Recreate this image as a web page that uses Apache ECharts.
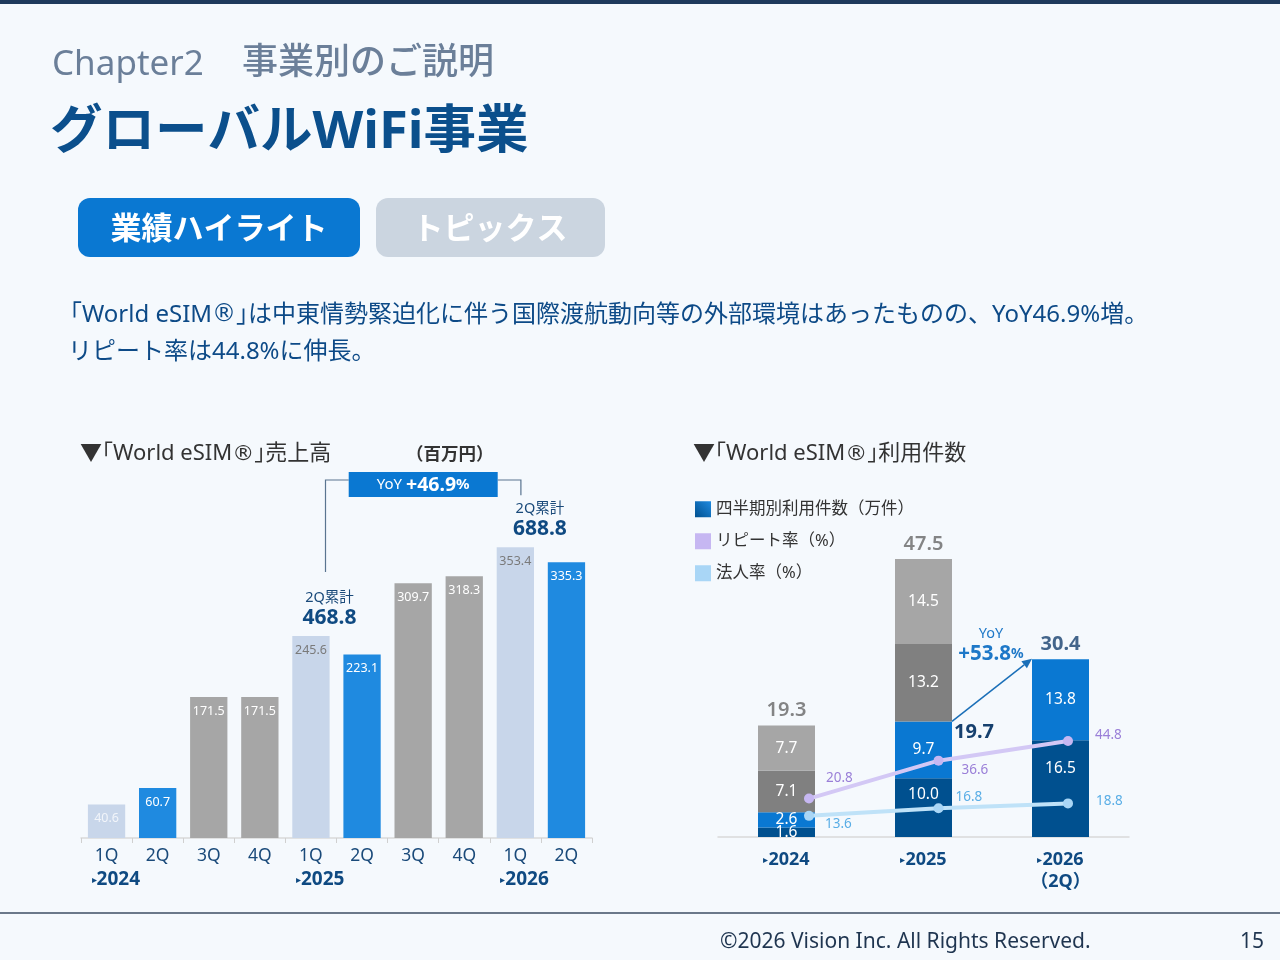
<!DOCTYPE html>
<html>
<head>
<meta charset="utf-8">
<script src="https://cdn.jsdelivr.net/npm/echarts@6/dist/echarts.min.js"></script>
<style>
  html, body { margin: 0; padding: 0; background: #f5f9fd; }
  #main { width: 1280px; height: 960px; }
</style>
</head>
<body>
<div id="main"></div>
<script>
// 売上高（百万円）
const salesQuarters = ['1Q', '2Q', '3Q', '4Q', '1Q', '2Q', '3Q', '4Q', '1Q', '2Q']
const salesValues = [40.6, 60.7, 171.5, 171.5, 245.6, 223.1, 309.7, 318.3, 353.4, 335.3]
const salesYears = ['2024', '2025', '2026']
const halfTotals = [468.8, 688.8]
const salesYoY = '+46.9'

// 利用件数（万件）
const useYears = ['2024', '2025', '2026']
const useQ1 = [1.6, 10.0, 16.5]
const useQ2 = [2.6, 9.7, 13.8]
const useQ3 = [7.1, 13.2, null]
const useQ4 = [7.7, 14.5, null]
const useTotals = [19.3, 47.5, 30.4]
const useHalf2025 = 19.7
const useYoY = '+53.8'
const repeatRate = [20.8, 36.6, 44.8]
const corpRate = [13.6, 16.8, 18.8]

const FONT = '"Noto Sans", "Noto Sans CJK JP", sans-serif'
const NAVY = '#0f4a82'

const salesColors = ['#c8d6ea', '#1f8ae0', '#a6a6a6', '#a6a6a6']
const salesLabelColors = ['#f2f5fa', '#fff', '#fff', '#fff', '#7a7a7a', '#fff', '#fff', '#fff', '#7a7a7a', '#fff']

const chart = echarts.init(document.getElementById('main'), null, {renderer: 'canvas'})

function txt(text, x, y, size, fill, extra) {
    return {type: 'text', x: x, y: y, silent: true,
        style: Object.assign({text: text, fontSize: size, fill: fill, fontFamily: FONT, verticalAlign: 'middle'}, extra || {})}
}
function regRich(size, fill) {
    return {r: {fontFamily: '"DejaVu Sans"', fontSize: size, fill: fill}}
}

const header = [
    {type: 'rect', shape: {x: 0, y: 0, width: 1280, height: 4}, style: {fill: '#1e3a5c'}},
    txt('Chapter2', 52, 65, 35, '#6b7f99'),
    txt('事業別のご説明', 242, 64, 36, '#6b7f99', {fontWeight: 500}),
    txt('グローバルWiFi事業', 50, 133, 52.5, '#0b4f8c', {fontWeight: 'bold'}),
    {type: 'rect', shape: {x: 78, y: 198, width: 282, height: 59, r: 12}, style: {fill: '#0a78d2'}},
    txt('業績ハイライト', 219, 230, 31, '#fff', {fontWeight: 'bold', align: 'center'}),
    {type: 'rect', shape: {x: 376, y: 198, width: 229, height: 59, r: 12}, style: {fill: '#cbd5e0'}},
    txt('トピックス', 490, 230, 31, '#fff', {fontWeight: 'bold', align: 'center'}),
    txt('｢World eSIM{r|®}｣は中東情勢緊迫化に伴う国際渡航動向等の外部環境はあったものの、YoY46.9%増。', 70, 315, 24, '#0d4a87',
        {rich: regRich(24, '#0d4a87')}),
    txt('リピート率は44.8%に伸長。', 68, 352, 24, '#0d4a87'),
    txt('▼｢World eSIM{r|®}｣売上高', 80, 454, 22, '#333', {rich: regRich(22, '#333')}),
    txt('（百万円）', 406, 455, 17.5, '#333', {fontWeight: 'bold'}),
    txt('▼｢World eSIM{r|®}｣利用件数', 693, 454, 22, '#333', {rich: regRich(22, '#333')}),
    {type: 'line', shape: {x1: 0, y1: 913, x2: 1280, y2: 913}, style: {stroke: '#3d4d63', lineWidth: 1.5}},
    txt('©2026 Vision Inc. All Rights Reserved.', 720, 942, 21, '#1f3550'),
    txt('15', 1240, 942, 21, '#1f3550')
]

// label offsets (styling only)
const q1LabelOffsets = [[0, 0], [0, -13], [0, -20]]
const repeatOffsets = [[7, -20], [13, 9], [17, -6]]
const corpOffsets = [[6, 8], [7, -11], [18, -2]]

const useSeries = [[useQ1, '四半期別利用件数（万件）', '#00508f'], [useQ2, 'q2', '#0a78d2'],
    [useQ3, 'q3', '#808080'], [useQ4, 'q4', '#a6a6a6']].map(([d, n, c], k) => ({
    name: n, type: 'bar', stack: 'use', xAxisIndex: 1, yAxisIndex: 1, barWidth: 57,
    data: d.map((v, i) => k === 0 ? {value: v, label: {offset: q1LabelOffsets[i]}} : v),
    itemStyle: {color: c},
    label: {show: true, position: 'inside', color: '#fff', fontSize: 15.5, fontFamily: FONT,
        formatter: p => p.value == null ? '' : p.value.toFixed(1)}
}))

const option = {
    animation: false,
    textStyle: {fontFamily: FONT},
    legend: {
        orient: 'vertical', left: 690, top: 496, itemWidth: 16, itemHeight: 16, itemGap: 15.5,
        selectedMode: false, icon: 'rect',
        textStyle: {fontSize: 16.5, color: '#333', fontFamily: FONT},
        data: [
            {name: '四半期別利用件数（万件）', itemStyle: {color: new echarts.graphic.LinearGradient(0, 1, 1, 0, [
                {offset: 0, color: '#00508f'}, {offset: 1, color: '#1f8ae0'}])}},
            {name: 'リピート率（%）'},
            {name: '法人率（%）'}
        ]
    },
    grid: [
        {left: 81, right: 688, top: 509, bottom: 122, outerBoundsMode: 'none'},
        {left: 718, right: 151, top: 485, bottom: 123, outerBoundsMode: 'none'},
        {left: 809, right: 212, top: 608.5, bottom: 111.5, outerBoundsMode: 'none'}
    ],
    xAxis: [
        {type: 'category', gridIndex: 0, data: salesQuarters,
            axisLine: {lineStyle: {color: '#d9d9d9', width: 1.5}},
            axisTick: {show: true, length: 5, lineStyle: {color: '#d0d0d0'}},
            axisLabel: {fontSize: 17.5, color: '#1a4a7a', margin: 9, fontFamily: FONT}},
        {type: 'category', gridIndex: 1, data: useYears,
            axisLine: {lineStyle: {color: '#d9d9d9', width: 1.5}},
            axisTick: {show: false},
            axisLabel: {margin: 12, lineHeight: 22,
                formatter: (v, i) => '{a|▸}{b|' + v + '}' + (i === 2 ? '\n{b|（2Q）}' : ''),
                rich: {
                    a: {fontSize: 10, color: NAVY, fontFamily: FONT},
                    b: {fontSize: 18, fontWeight: 'bold', color: NAVY, fontFamily: FONT, lineHeight: 22}
                }}},
        {type: 'category', gridIndex: 2, data: useYears, boundaryGap: false, show: false}
    ],
    yAxis: [
        {type: 'value', gridIndex: 0, min: 0, max: 400, show: false},
        {type: 'value', gridIndex: 1, min: 0, max: 60, show: false},
        {type: 'value', gridIndex: 2, min: 0, max: 100, show: false}
    ],
    series: [
        {name: 'sales', type: 'bar', xAxisIndex: 0, yAxisIndex: 0, barCategoryGap: '27%',
            data: salesValues.map((v, i) => ({value: v,
                itemStyle: {color: salesColors[i % 4]},
                label: {color: salesLabelColors[i]}})),
            label: {show: true, position: 'insideTop', distance: 8, fontSize: 12.5, fontFamily: FONT,
                formatter: p => p.value.toFixed(1)}},
        ...useSeries,
        {name: 'total', type: 'scatter', xAxisIndex: 1, yAxisIndex: 1, symbolSize: 0,
            data: useYears.map((y, i) => ({
                value: [useQ1, useQ2, useQ3, useQ4].reduce((s, a) => s + (a[i] || 0), 0),
                label: {color: i === 2 ? '#16406e' : '#666', fontWeight: i === 2 ? 'bold' : 600}
            })),
            label: {show: true, position: 'top', distance: 5, fontSize: 20, fontFamily: FONT,
                formatter: p => useTotals[p.dataIndex].toFixed(1)}},
        {name: 'リピート率（%）', type: 'line', xAxisIndex: 2, yAxisIndex: 2,
            data: repeatRate.map((v, i) => ({value: v, label: {offset: repeatOffsets[i]}})),
            color: '#d3c8f5', symbol: 'circle', symbolSize: 10,
            lineStyle: {width: 4, color: '#d3c8f5'}, itemStyle: {color: '#c6b7f2'},
            label: {show: true, position: 'right', color: '#9a7fd8', fontSize: 13.5, fontFamily: FONT,
                formatter: p => p.value.toFixed(1)},
            z: 5},
        {name: '法人率（%）', type: 'line', xAxisIndex: 2, yAxisIndex: 2,
            data: corpRate.map((v, i) => ({value: v, label: {offset: corpOffsets[i]}})),
            color: '#bfe2f8', symbol: 'circle', symbolSize: 10,
            lineStyle: {width: 4, color: '#bfe2f8'}, itemStyle: {color: '#a9d6f6'},
            label: {show: true, position: 'right', color: '#5aaee6', fontSize: 13.5, fontFamily: FONT,
                formatter: p => p.value.toFixed(1)},
            z: 5}
    ],
    graphic: header
}

chart.setOption(option)

// annotations placed from the axes
const px = (g, x, y) => chart.convertToPixel({xAxisIndex: g, yAxisIndex: g}, [x, y])
const extra = []

// 2Q累計
const pairs = [[4, 5], [8, 9]]
const pairShift = [-7, -1]
const tops = pairs.map(([a, b], k) => {
    const pa = px(0, a, Math.max(salesValues[a], salesValues[b]))
    const pb = px(0, b, 0)
    return [(pa[0] + pb[0]) / 2 + pairShift[k], pa[1]]
})
tops.forEach(([x, y], i) => {
    extra.push(txt('2Q累計', x, y - 38, 14.5, '#1a4a7a', {align: 'center'}))
    extra.push(txt(halfTotals[i].toFixed(1), x, y - 18, 21, NAVY, {align: 'center', fontWeight: 'bold'}))
})
const lx = tops[0][0] - 4, rx = tops[1][0] - 19, by = 480
const boxW = 149, boxX = (lx + rx) / 2 - boxW / 2
extra.push({type: 'polyline', shape: {points: [[lx, tops[0][1] - 64], [lx, by], [boxX, by]]},
    style: {stroke: '#5a7590', lineWidth: 1.2, fill: null}})
extra.push({type: 'polyline', shape: {points: [[boxX + boxW, by], [rx, by], [rx, tops[1][1] - 52]]},
    style: {stroke: '#5a7590', lineWidth: 1.2, fill: null}})
extra.push({type: 'rect', shape: {x: boxX, y: by - 8, width: boxW, height: 25}, style: {fill: '#0a78d2'}})
extra.push({type: 'text', x: boxX + boxW / 2, y: by + 5, style: {
    text: '{a|YoY }{b|' + salesYoY + '}{c|%}', align: 'center', verticalAlign: 'middle', fill: '#fff',
    rich: {a: {fontSize: 15, fill: '#fff', fontFamily: FONT}, b: {fontSize: 19.5, fontWeight: 'bold', fill: '#fff', fontFamily: FONT},
        c: {fontSize: 15, fontWeight: 'bold', fill: '#fff', fontFamily: FONT}}}})

// year markers under the left chart
salesYears.forEach((y, i) => {
    const p = px(0, i * 4, 0)
    extra.push({type: 'text', x: p[0] - 15, y: 880, style: {
        text: '{a|▸}{b|' + y + '}', verticalAlign: 'middle',
        rich: {a: {fontSize: 10, fill: NAVY, fontFamily: FONT}, b: {fontSize: 19, fontWeight: 'bold', fill: NAVY, fontFamily: FONT}}}})
})

// YoY arrow on the right chart
const half = 28.5
const s = px(1, 1, useHalf2025), e = px(1, 2, useTotals[2])
const x1 = s[0] + half, y1 = s[1], x2 = e[0] - half, y2 = e[1]
const ang = Math.atan2(y2 - y1, x2 - x1), hl = 10, hw = 4.5
const bx = x2 - hl * Math.cos(ang), byy = y2 - hl * Math.sin(ang)
extra.push({type: 'line', shape: {x1: x1, y1: y1, x2: bx, y2: byy}, style: {stroke: '#1a6fb8', lineWidth: 1.5}})
extra.push({type: 'polygon', shape: {points: [[x2, y2],
    [bx + hw * Math.sin(ang), byy - hw * Math.cos(ang)], [bx - hw * Math.sin(ang), byy + hw * Math.cos(ang)]]},
    style: {fill: '#1a6fb8'}})
extra.push(txt(useHalf2025.toFixed(1), x1 + 22, y1 + 11, 20, '#16406e', {align: 'center', fontWeight: 'bold'}))
const mx = (x1 + x2) / 2, my = (y1 + y2) / 2
extra.push(txt('YoY', mx - 1, my - 56, 14.5, '#1e78c8', {align: 'center'}))
extra.push({type: 'text', x: mx - 1, y: my - 36, style: {
    text: '{b|' + useYoY + '}{c|%}', align: 'center', verticalAlign: 'middle',
    rich: {b: {fontSize: 20.5, fontWeight: 'bold', fill: '#1e78c8', fontFamily: FONT},
        c: {fontSize: 14, fontWeight: 'bold', fill: '#1e78c8', fontFamily: FONT}}}})

chart.setOption({graphic: header.concat(extra)})
</script>
</body>
</html>
